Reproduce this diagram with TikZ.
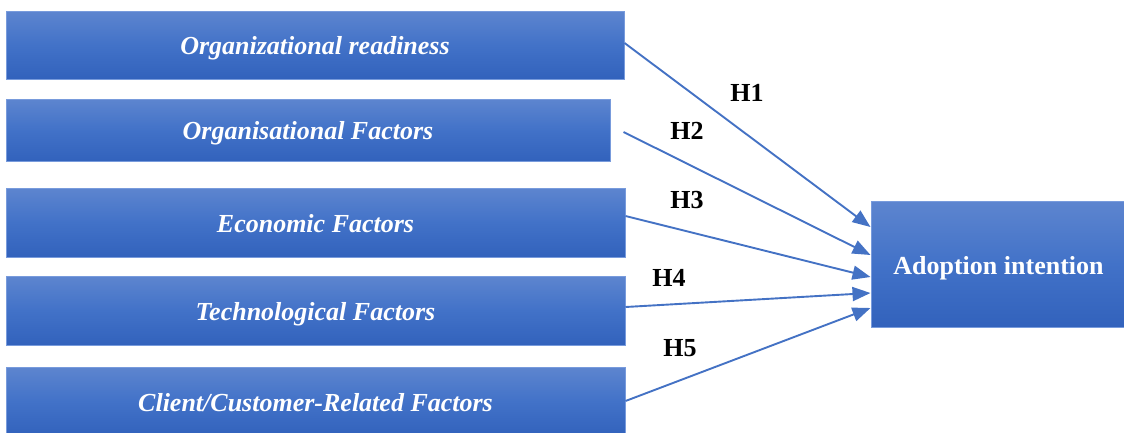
\documentclass[tikz,border=0pt]{standalone}
\usepackage{fontspec}
\setmainfont{Liberation Serif}
\usetikzlibrary{arrows.meta,calc}
\definecolor{btop}{RGB}{93,133,207}
\definecolor{bmid}{RGB}{66,114,200}
\definecolor{bbot}{RGB}{50,98,188}
\definecolor{bline}{RGB}{120,155,220}
\definecolor{arr}{RGB}{68,114,196}
\begin{document}
\begin{tikzpicture}[x=1pt,y=-1pt,
  factor/.style={draw=bline, line width=1pt, top color=btop, bottom color=bbot, middle color=bmid,
    text=white, font=\fontsize{26}{30}\selectfont\bfseries\itshape, inner sep=0pt,
    text height=19pt, text depth=0pt},
  target/.style={draw=bline, line width=1pt, top color=btop, bottom color=bbot, middle color=bmid,
    text=white, font=\fontsize{26}{30}\selectfont\bfseries, inner sep=0pt,
    text height=20pt, text depth=0pt},
  link/.style={draw=arr, line width=1.9pt, -{Triangle[length=18pt,width=14pt]}},
  hyp/.style={font=\fontsize{26}{30}\selectfont\bfseries, text=black, inner sep=0pt}]
\useasboundingbox (0,0) rectangle (1124,432);
\node[factor, minimum width=618pt, minimum height=68pt] (f1) at (315,45) {Organizational readiness};
\node[factor, minimum width=604pt, minimum height=62pt] (f2) at (308,130) {Organisational Factors};
\node[factor, minimum width=619pt, minimum height=69pt] (f3) at (315.5,222.5) {Economic Factors};
\node[factor, minimum width=619pt, minimum height=69pt] (f4) at (315.5,310.5) {Technological Factors};
\node[factor, minimum width=619pt, minimum height=69pt] (f5) at (315.5,401.5) {Client/Customer-Related Factors};
\node[target, minimum width=255pt, minimum height=126pt] (ad) at (998.5,264) {Adoption intention};
\draw[link] ([yshift=2pt]f1.east) -- ([yshift=37pt]ad.west);
\draw[link] ([xshift=13pt,yshift=-2pt]f2.east) -- ([yshift=9pt]ad.west);
\draw[link] ([yshift=6.5pt]f3.east) -- ([yshift=-13pt]ad.west);
\draw[link] ([yshift=3.5pt]f4.east) -- ([yshift=-29pt]ad.west);
\draw[link] ([yshift=0.5pt]f5.east) -- ([yshift=-44pt]ad.west);
\node[hyp] (h1) at (747,93) {H1};
\node[hyp] (h2) at (687,131) {H2};
\node[hyp] (h3) at (687,200) {H3};
\node[hyp] (h4) at (669,278) {H4};
\node[hyp] (h5) at (680,348) {H5};
\end{tikzpicture}
\end{document}
